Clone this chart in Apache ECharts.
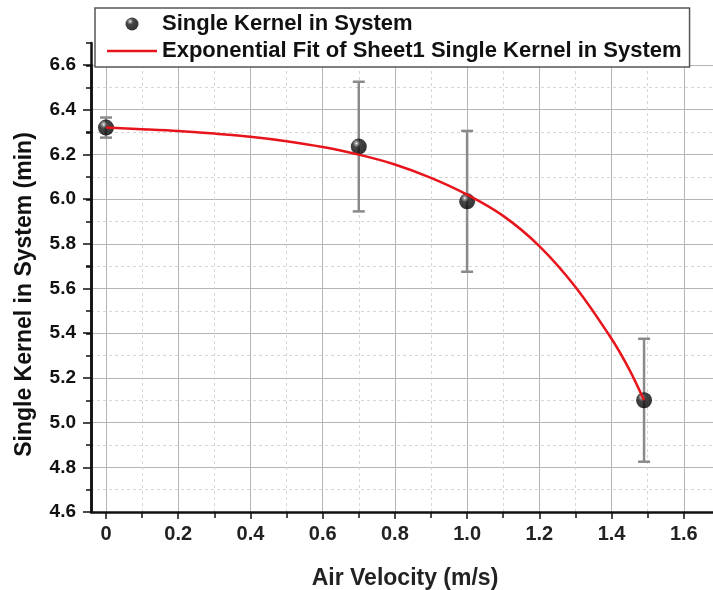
<!DOCTYPE html>
<html>
<head>
<meta charset="utf-8">
<script src="https://cdn.jsdelivr.net/npm/echarts@6/dist/echarts.min.js"></script>
<style>html,body{margin:0;padding:0;background:#fff}#c{width:713px;height:590px}</style>
</head>
<body>
<div id="c"></div>
<script>
var airVelocity = [0, 0.7, 1.0, 1.49];
var kernelTime = [6.32, 6.235, 5.99, 5.10];
var kernelErr = [0.045, 0.29, 0.315, 0.275];
// Fitted curve
var fitX = [0, 0.1, 0.2, 0.3, 0.4, 0.5, 0.6, 0.7, 0.8, 0.9, 1.0, 1.1, 1.2, 1.3, 1.4, 1.45, 1.49];
var fitY = [6.32, 6.313, 6.305, 6.293, 6.279, 6.259, 6.233, 6.199, 6.155, 6.095, 6.02, 5.925, 5.79, 5.607, 5.375, 5.235, 5.10];
var seriesNames = ['Single Kernel in System', 'Exponential Fit of Sheet1 Single Kernel in System'];

var FONT = '"Liberation Sans", Arial, sans-serif';
var pts = airVelocity.map(function (x, i) { return [x, kernelTime[i], kernelErr[i]]; });
var fit = fitX.map(function (x, i) { return [x, fitY[i]]; });

var sphere = {
  type: 'radial', x: 0.36, y: 0.3, r: 0.72,
  colorStops: [
    {offset: 0, color: '#ffffff'},
    {offset: 0.12, color: '#8c8c8c'},
    {offset: 0.35, color: '#161616'},
    {offset: 1, color: '#000000'}
  ]
};

var chart = echarts.init(document.getElementById('c'), null, {renderer: 'canvas'});
chart.setOption({
  animation: false,
  backgroundColor: '#fff',
  grid: [
    {left: 106, top: 65, height: 447, width: 650, outerBoundsMode: 'none', containLabel: false},
    {left: 91, top: 65, height: 447, width: 628, outerBoundsMode: 'none', containLabel: false},
    {left: 91, top: 43, height: 469, width: 10, outerBoundsMode: 'none', containLabel: false}
  ],
  legend: {
    orient: 'vertical', left: 95, top: 8,
    padding: [5, 8, 5, 12],
    itemWidth: 50, itemHeight: 13, itemGap: 5,
    symbolKeepAspect: true,
    backgroundColor: '#fff', borderColor: '#555', borderWidth: 1.5,
    textStyle: {fontFamily: FONT, fontWeight: 'bold', fontSize: 22, color: '#111'},
    data: [
      {name: seriesNames[0], icon: 'circle'},
      {name: seriesNames[1], icon: 'path://M0,0 L50,0 L50,2.5 L0,2.5 Z', itemStyle: {color: '#e8141b'}}
    ],
    z: 10
  },
  xAxis: [
    {
      gridIndex: 0, type: 'value', min: 0, max: 1.8, interval: 0.2,
      axisLine: {show: false},
      axisTick: {show: true, length: 7, lineStyle: {color: '#111', width: 1.5}},
      minorTick: {show: true, splitNumber: 2, length: 6, lineStyle: {color: '#111', width: 1.5}},
      axisLabel: {
        margin: 12, color: '#222', fontFamily: FONT, fontWeight: 'bold', fontSize: 20,
        formatter: function (v) { return v === 0 ? '0' : v.toFixed(1); }
      },
      splitLine: {show: true, lineStyle: {color: '#b4b4b4', width: 1}},
      minorSplitLine: {show: true, lineStyle: {color: '#d6d6d6', width: 1, type: [3, 3]}}
    },
    {
      gridIndex: 1, type: 'value', min: 0, max: 1,
      axisLine: {show: true, onZero: false, lineStyle: {color: '#111', width: 2.5}},
      axisTick: {show: false}, axisLabel: {show: false}, splitLine: {show: false},
      name: 'Air Velocity (m/s)', nameLocation: 'middle', nameGap: 55,
      nameTextStyle: {fontFamily: FONT, fontWeight: 'bold', fontSize: 23, color: '#222'}
    },
    {
      gridIndex: 2, type: 'value', show: false, min: 0, max: 1
    }
  ],
  yAxis: [
    {
      gridIndex: 0, type: 'value', min: 4.6, max: 6.6, interval: 0.2,
      axisLine: {show: false}, axisTick: {show: false}, axisLabel: {show: false},
      splitLine: {show: false}
    },
    {
      gridIndex: 1, type: 'value', min: 4.6, max: 6.6, interval: 0.2,
      axisLine: {show: true, onZero: false, lineStyle: {color: '#111', width: 2.5}},
      axisTick: {show: true, length: 8, lineStyle: {color: '#111', width: 1.5}},
      minorTick: {show: true, splitNumber: 2, length: 5, lineStyle: {color: '#111', width: 1.5}},
      axisLabel: {
        margin: 15, color: '#111', fontFamily: FONT, fontWeight: 'bold', fontSize: 19,
        formatter: function (v) { return v.toFixed(1); }
      },
      splitLine: {show: true, lineStyle: {color: '#b4b4b4', width: 1}},
      minorSplitLine: {show: true, lineStyle: {color: '#d6d6d6', width: 1, type: [3, 3]}},
      name: 'Single Kernel in System (min)', nameLocation: 'middle', nameGap: 55,
      nameTextStyle: {fontFamily: FONT, fontWeight: 'bold', fontSize: 23, color: '#111', padding: [0, 12, 0, 0]}
    },
    {
      gridIndex: 2, type: 'value', min: 4.6, max: 6.7, interval: 0.1,
      axisLine: {show: true, onZero: false, lineStyle: {color: '#111', width: 2.5}},
      axisTick: {show: true, length: 5, lineStyle: {color: '#111', width: 1.5}},
      axisLabel: {show: false}, splitLine: {show: false}
    }
  ],
  series: [
    {
      type: 'custom', name: 'errbar', xAxisIndex: 0, yAxisIndex: 0, z: 2,
      data: pts,
      renderItem: function (params, api) {
        var x = api.value(0), y = api.value(1), e = api.value(2);
        var top = api.coord([x, y + e]);
        var bot = api.coord([x, y - e]);
        var hw = 6;
        var st = {stroke: '#8a8a8a', lineWidth: 2.5};
        return {
          type: 'group',
          children: [
            {type: 'line', shape: {x1: top[0], y1: top[1], x2: bot[0], y2: bot[1]}, style: st},
            {type: 'line', shape: {x1: top[0] - hw, y1: top[1], x2: top[0] + hw, y2: top[1]}, style: st},
            {type: 'line', shape: {x1: bot[0] - hw, y1: bot[1], x2: bot[0] + hw, y2: bot[1]}, style: st}
          ]
        };
      }
    },
    {
      type: 'scatter', name: seriesNames[0], xAxisIndex: 0, yAxisIndex: 0, z: 3,
      clip: false, symbol: 'circle', symbolSize: 16,
      itemStyle: {color: sphere},
      data: pts.map(function (p) { return [p[0], p[1]]; })
    },
    {
      type: 'line', name: seriesNames[1], xAxisIndex: 0, yAxisIndex: 0, z: 4,
      clip: false, smooth: 0.3, symbol: 'none', showSymbol: false,
      lineStyle: {color: '#e8141b', width: 2.5},
      itemStyle: {color: '#e8141b'},
      data: fit
    }
  ]
});
</script>
</body>
</html>
